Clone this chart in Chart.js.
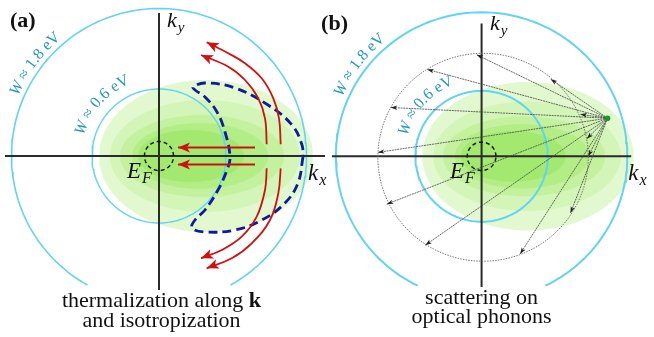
<!DOCTYPE html>
<html>
<head>
<meta charset="utf-8">
<script src="https://cdn.jsdelivr.net/npm/chart.js@4.4.1/dist/chart.umd.min.js"></script>
<style>
html, body { margin: 0; padding: 0; background: #fff; }
#container { position: relative; width: 654px; height: 337px; }
#container canvas { position: absolute; left: 0; top: 0; }
</style>
</head>
<body>
<div id="container">
<canvas id="panelA" width="654" height="337"></canvas>
<canvas id="panelB" width="654" height="337"></canvas>
</div>
<script>
// everything in k-space units, origin where the kx / ky axes cross
var panelNames = ['(a)', '(b)'];
var energyValues = ['1.8', '0.6'];
var isoRadii = [1.475, 0.67];
var fermiRadius = 0.145;

// electron cloud, outer layer first
var cloudCx = [0.47, 0.46, 0.43, 0.41, 0.32];
var cloudRx = [1.07, 0.95, 0.82, 0.68, 0.53];
var cloudRy = [0.76, 0.56, 0.41, 0.33, 0.26];

// (a) dashed crescent
var crescent = [
  [1.44, -0.01], [1.39, -0.27], [1.26, -0.47], [1.03, -0.64], [0.76, -0.74], [0.46, -0.76],
  [0.33, -0.72], [0.36, -0.64], [0.46, -0.54], [0.59, -0.34], [0.68, -0.14], [0.71, -0.01],
  [0.66, 0.24], [0.58, 0.44], [0.46, 0.59], [0.36, 0.66], [0.34, 0.69], [0.46, 0.73],
  [0.76, 0.68], [1.09, 0.51], [1.33, 0.31], [1.43, 0.11], [1.44, -0.01]
];

// (a) red arrows
var redUpperInner = [[1.077, 0.117], [1.06, 0.377], [0.993, 0.577], [0.86, 0.76], [0.693, 0.893], [0.42, 1.01]];
var redUpperOuter = [[1.217, 0.117], [1.20, 0.377], [1.143, 0.577], [1.027, 0.777], [0.86, 0.927], [0.693, 1.027], [0.477, 1.137]];
var redLowerInner = [[1.077, -0.123], [1.06, -0.34], [0.977, -0.607], [0.827, -0.807], [0.627, -0.94], [0.42, -1.023]];
var redLowerOuter = [[1.217, -0.123], [1.193, -0.373], [1.11, -0.64], [0.927, -0.873], [0.727, -1.023], [0.477, -1.123]];
var redStraightY = [0.085, -0.085];
var redStraightX = [0.96, 0.19];

// (b) optical phonon scattering
var phononSource = [1.275, 0.39];
var phononCircle = { cx: 0.015, cy: -0.01, r: 1.065 };
var phononEnds = [
  [-0.05, 1.04], [-0.55, 0.89], [-0.92, 0.50], [-1.05, 0.04], [-0.96, -0.49], [-0.57, -0.91],
  [0.39, -1.00], [0.90, -0.58], [1.08, 0.00], [1.065, 0.18], [1.00, 0.43], [0.70, 0.79]
];

var captionA = ['thermalization along ', 'k', 'and isotropization'];
var captionB = ['scattering on', 'optical phonons'];

var cloudColors = ['#e2f9cf', '#d3f5b7', '#c3f19e', '#b3ed86', '#a3e970'];
var cyan = '#62d3f2';
var serif = '"Liberation Serif", "Times New Roman", serif';

function ellipsePts(cx, cy, rx, ry, a0, a1) {
  var pts = [], n = 160;
  for (var i = 0; i <= n; i++) {
    var a = (a0 + (a1 - a0) * i / n) * Math.PI / 180;
    pts.push({ x: cx + rx * Math.cos(a), y: cy + ry * Math.sin(a) });
  }
  return pts;
}
function toPts(arr) { return arr.map(function (p) { return { x: p[0], y: p[1] }; }); }

function lineSet(data, color, width, extra) {
  var ds = { data: data, showLine: true, borderColor: color, borderWidth: width, pointRadius: 0, fill: false, tension: 0 };
  for (var k in extra) ds[k] = extra[k];
  return ds;
}

function cloudSets() {
  return cloudCx.map(function (cx, i) {
    return lineSet(ellipsePts(cx, 0, cloudRx[i], cloudRy[i], 0, 360), 'rgba(0,0,0,0)', 0,
      { fill: 'shape', backgroundColor: cloudColors[i] });
  });
}

function pix(chart, x, y) {
  return [chart.scales.x.getPixelForValue(x), chart.scales.y.getPixelForValue(y)];
}

function head(ctx, from, tip, len, half, color) {
  var dx = tip[0] - from[0], dy = tip[1] - from[1], d = Math.hypot(dx, dy);
  dx /= d; dy /= d;
  ctx.beginPath();
  ctx.moveTo(tip[0], tip[1]);
  ctx.lineTo(tip[0] - dx * len - dy * half, tip[1] - dy * len + dx * half);
  ctx.lineTo(tip[0] - dx * len * 0.75, tip[1] - dy * len * 0.75);
  ctx.lineTo(tip[0] - dx * len + dy * half, tip[1] - dy * len - dx * half);
  ctx.closePath();
  ctx.fillStyle = color;
  ctx.fill();
}

function arcText(chart, r, startDeg, value) {
  var ctx = chart.ctx, c = pix(chart, 0, 0);
  var R = chart.scales.x.getPixelForValue(r) - c[0];
  var chars = [['W', 'italic'], [' ', ''], ['≈', ''], [' ', '']];
  (value + ' eV').split('').forEach(function (ch) { chars.push([ch, '']); });
  var th = startDeg * Math.PI / 180;
  ctx.save();
  ctx.fillStyle = '#2496c6';
  ctx.textAlign = 'center';
  ctx.textBaseline = 'alphabetic';
  chars.forEach(function (cc) {
    ctx.font = (cc[1] ? cc[1] + ' ' : '') + '16px ' + serif;
    var w = ctx.measureText(cc[0]).width;
    var mid = th - (w / 2) / R;
    ctx.save();
    ctx.translate(c[0] + R * Math.cos(mid), c[1] - R * Math.sin(mid));
    ctx.rotate(Math.PI / 2 - mid);
    ctx.fillText(cc[0], 0, 0);
    ctx.restore();
    th -= w / R;
  });
  ctx.restore();
}

function subLabel(ctx, p, main, sub, size) {
  ctx.font = 'italic ' + size + 'px ' + serif;
  ctx.fillText(main, p[0], p[1]);
  var w = ctx.measureText(main).width;
  ctx.font = 'italic ' + Math.round(size * 0.68) + 'px ' + serif;
  ctx.fillText(sub, p[0] + w + 1, p[1] + 5);
}

function makeChart(id, xmin, datasets, draw) {
  datasets.forEach(function (ds, i) { ds.order = datasets.length - i; });
  return new Chart(document.getElementById(id), {
    type: 'scatter',
    data: { datasets: datasets },
    options: {
      responsive: false,
      animation: false,
      devicePixelRatio: 1,
      events: [],
      layout: { padding: 0 },
      plugins: { legend: { display: false }, tooltip: { enabled: false } },
      scales: {
        x: { type: 'linear', display: false, min: xmin, max: xmin + 6.54 },
        y: { type: 'linear', display: false, min: -1.81, max: 1.56 }
      }
    },
    plugins: [{ id: 'decor', afterDatasetsDraw: draw }]
  });
}

function commonText(chart, idx, kyPos, kxPos) {
  var ctx = chart.ctx;
  ctx.save();
  ctx.fillStyle = '#111';
  ctx.textAlign = 'left';
  ctx.textBaseline = 'alphabetic';
  ctx.font = 'bold 22px ' + serif;
  var lp = idx === 0 ? pix(chart, -1.49, 1.29) : pix(chart, -1.625, 1.29);
  ctx.fillText(panelNames[idx], lp[0], lp[1]);
  subLabel(ctx, pix(chart, kyPos[0], kyPos[1]), 'k', 'y', 22);
  subLabel(ctx, pix(chart, kxPos[0], kxPos[1]), 'k', 'x', 23);
  subLabel(ctx, pix(chart, -0.32, -0.22), 'E', 'F', 23);
  ctx.restore();
  arcText(chart, 1.53, 157, energyValues[0]);
  arcText(chart, 0.78, 165, energyValues[1]);
}

// ---------- panel (a) ----------
var dsA = cloudSets();
dsA.push(lineSet(ellipsePts(0, 0, isoRadii[0], isoRadii[0], -61, 241), cyan, 1.6));
dsA.push(lineSet(ellipsePts(0, 0, isoRadii[1], isoRadii[1], 0, 360), cyan, 1.4));
dsA.push(lineSet([{ x: -1.54, y: 0 }, { x: 1.66, y: 0 }], '#2a2a2a', 2));
dsA.push(lineSet([{ x: 0, y: -1.34 }, { x: 0, y: 1.43 }], '#2a2a2a', 2));
dsA.push(lineSet(ellipsePts(0, 0, fermiRadius, fermiRadius, 0, 360), '#111', 1.5, { borderDash: [4, 3] }));
dsA.push(lineSet(toPts(crescent), '#0c1c9c', 2.8, { borderDash: [9, 5], tension: 0.4 }));
[redUpperInner, redUpperOuter, redLowerInner, redLowerOuter].forEach(function (c) {
  dsA.push(lineSet(toPts(c), '#d01010', 1.8, { tension: 0.4 }));
});
redStraightY.forEach(function (y) {
  dsA.push(lineSet([{ x: redStraightX[0], y: y }, { x: redStraightX[1], y: y }], '#d01010', 1.8));
});

makeChart('panelA', -1.59, dsA, function (chart) {
  var ctx = chart.ctx;
  [redUpperInner, redUpperOuter, redLowerInner, redLowerOuter].forEach(function (c) {
    var a = c[c.length - 2], b = c[c.length - 1];
    head(ctx, pix(chart, a[0], a[1]), pix(chart, b[0], b[1]), 12, 5, '#d01010');
  });
  redStraightY.forEach(function (y) {
    head(ctx, pix(chart, redStraightX[0], y), pix(chart, redStraightX[1], y), 12, 5, '#d01010');
  });
  commonText(chart, 0, [0.08, 1.29], [1.49, -0.24]);
  ctx.save();
  ctx.fillStyle = '#111';
  ctx.textBaseline = 'alphabetic';
  ctx.font = '22px ' + serif;
  var w1 = ctx.measureText(captionA[0]).width;
  ctx.font = 'bold 22px ' + serif;
  var w2 = ctx.measureText(captionA[1]).width;
  var p = pix(chart, 0.025, -1.51);
  ctx.textAlign = 'left';
  ctx.font = '22px ' + serif;
  ctx.fillText(captionA[0], p[0] - (w1 + w2) / 2, p[1]);
  ctx.font = 'bold 22px ' + serif;
  ctx.fillText(captionA[1], p[0] - (w1 + w2) / 2 + w1, p[1]);
  ctx.font = '22px ' + serif;
  ctx.textAlign = 'center';
  var p2 = pix(chart, 0.025, -1.71);
  ctx.fillText(captionA[2], p2[0], p2[1]);
  ctx.restore();
});

// ---------- panel (b) ----------
var dsB = cloudSets();
dsB.push(lineSet(ellipsePts(0, 0, isoRadii[0], isoRadii[0], -64, 244), cyan, 2));
dsB.push(lineSet(ellipsePts(0, 0, isoRadii[1], isoRadii[1], 0, 360), cyan, 2));
dsB.push(lineSet([{ x: -1.515, y: 0 }, { x: 1.515, y: 0 }], '#2a2a2a', 2));
dsB.push(lineSet([{ x: 0, y: -1.34 }, { x: 0, y: 1.36 }], '#2a2a2a', 2));
dsB.push(lineSet(ellipsePts(0, 0, fermiRadius, fermiRadius, 0, 360), '#111', 1.5, { borderDash: [4, 3] }));
dsB.push(lineSet(ellipsePts(phononCircle.cx, phononCircle.cy, phononCircle.r, phononCircle.r, 0, 360), '#666', 0.9, { borderDash: [1.5, 1.2] }));
phononEnds.forEach(function (e) {
  dsB.push(lineSet([{ x: phononSource[0], y: phononSource[1] }, { x: e[0], y: e[1] }], '#444', 0.8, { borderDash: [2, 0.7] }));
});
dsB.push({ data: [{ x: phononSource[0], y: phononSource[1] }], showLine: false, pointRadius: 2.8,
  pointBackgroundColor: '#159a25', pointBorderWidth: 0 });

makeChart('panelB', -4.835, dsB, function (chart) {
  var ctx = chart.ctx;
  var s = pix(chart, phononSource[0], phononSource[1]);
  phononEnds.forEach(function (e) {
    head(ctx, s, pix(chart, e[0], e[1]), 6.5, 2.2, '#222');
  });
  commonText(chart, 1, [0.085, 1.29], [1.485, -0.24]);
  ctx.save();
  ctx.fillStyle = '#111';
  ctx.textBaseline = 'alphabetic';
  ctx.textAlign = 'center';
  ctx.font = '22px ' + serif;
  var p = pix(chart, 0, -1.51), p2 = pix(chart, 0, -1.71);
  ctx.fillText(captionB[0], p[0], p[1]);
  ctx.fillText(captionB[1], p2[0], p2[1]);
  ctx.restore();
});
</script>
</body>
</html>
